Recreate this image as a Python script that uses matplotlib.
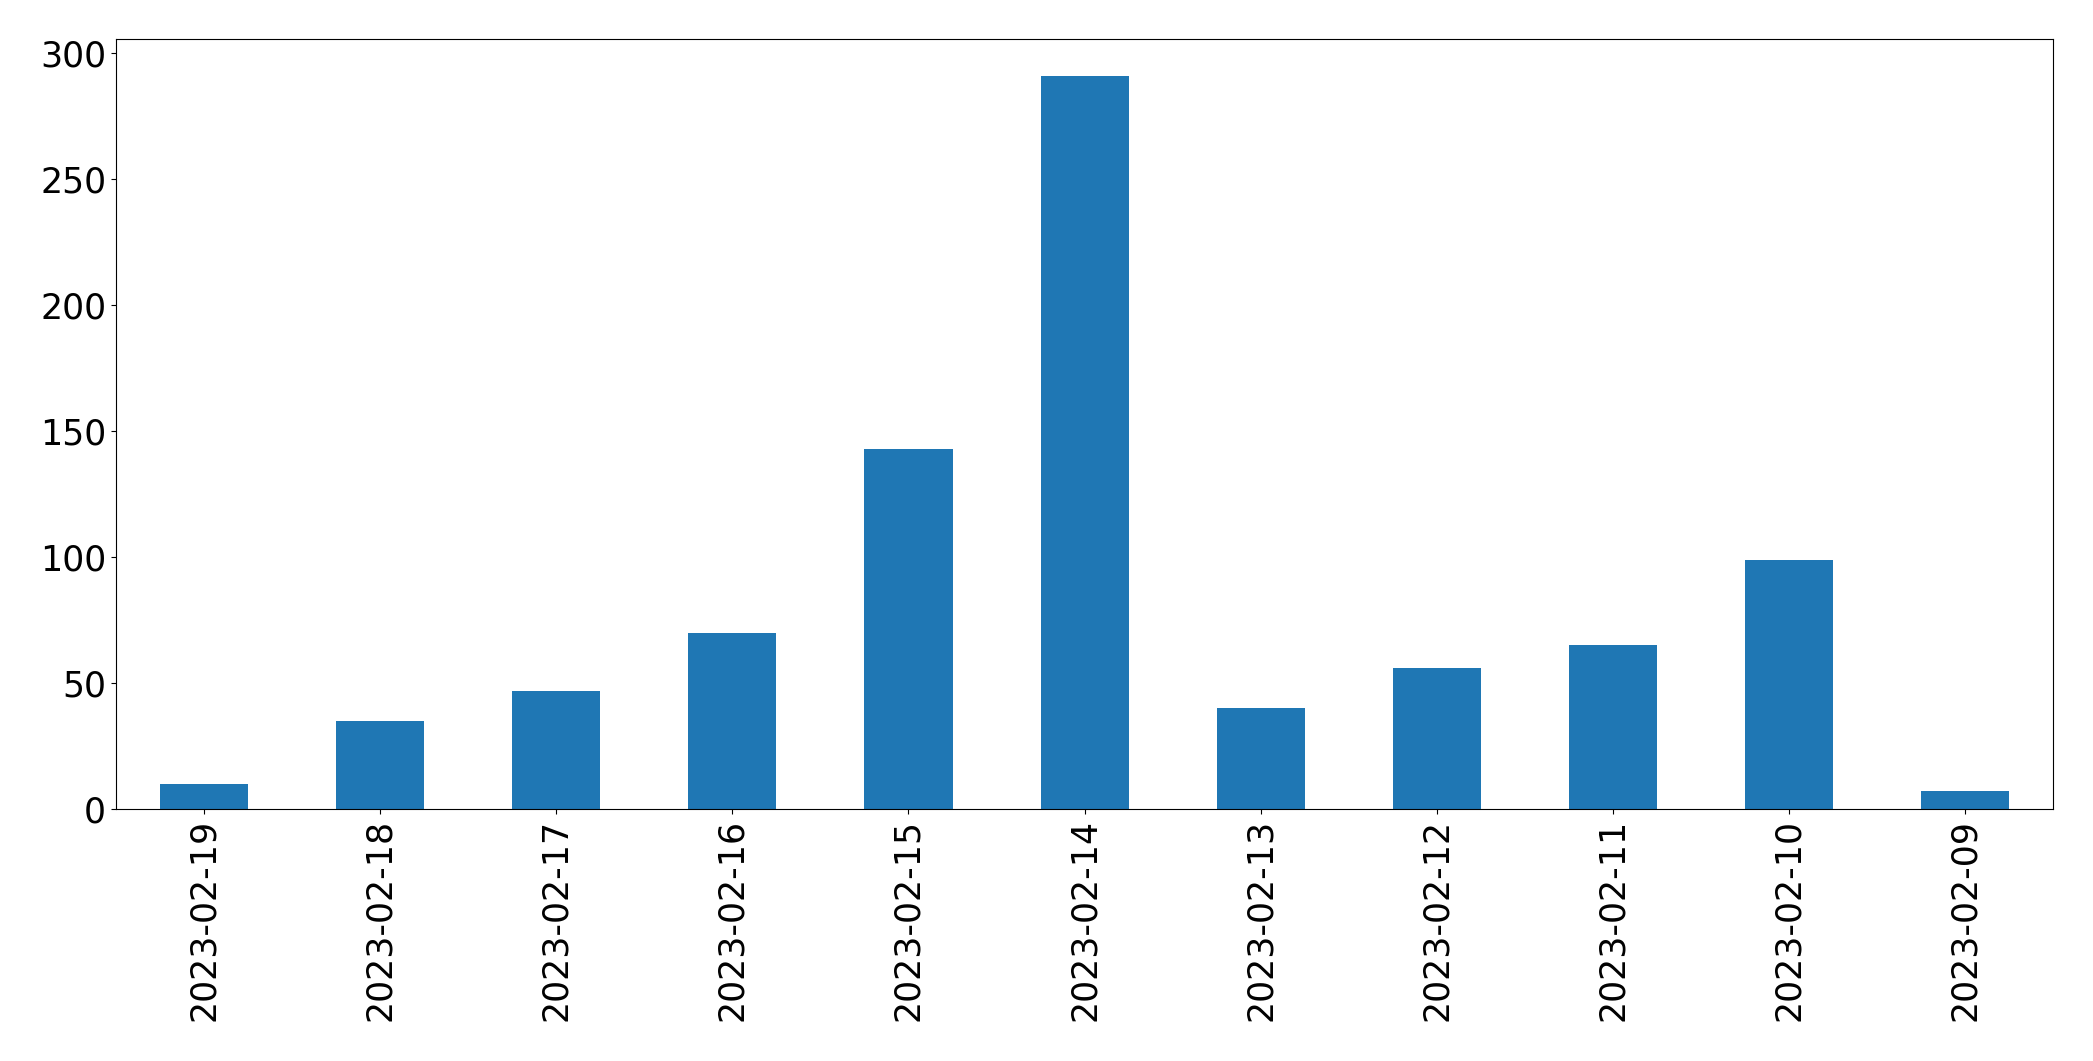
import matplotlib
matplotlib.use('Agg')
import matplotlib.pyplot as plt
import numpy as np

# daily counts, newest first
dates  = ['2023-02-19', '2023-02-18', '2023-02-17', '2023-02-16', '2023-02-15',
          '2023-02-14', '2023-02-13', '2023-02-12', '2023-02-11', '2023-02-10',
          '2023-02-09']
counts = [10, 35, 47, 70, 143, 291, 40, 56, 65, 99, 7]

fig, ax = plt.subplots(figsize=(20.93, 10.61), dpi=100)
fig.subplots_adjust(left=0.0554, right=0.981, top=0.9632, bottom=0.2375)

x = np.arange(len(dates))
ax.bar(x, counts, width=0.5, color='#1f77b4')
ax.set_xlim(-0.5, len(dates) - 0.5)
ax.set_xticks(x)
ax.set_xticklabels(dates, rotation=90)
ax.tick_params(axis='both', labelsize=25)

fig.savefig('out.png', dpi=100)
